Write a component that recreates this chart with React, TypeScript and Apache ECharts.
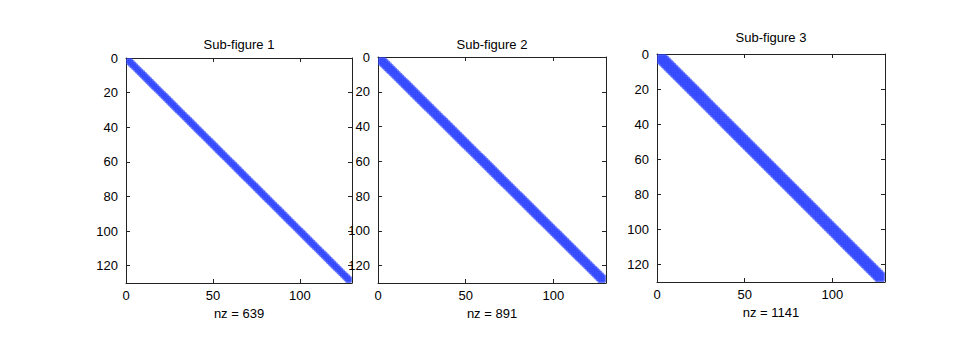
import React, { useEffect, useRef } from "react";
import * as echarts from "echarts";

// Sparse band matrices (MATLAB spy plots)
const matrixSize = 129;
const halfBandwidths = [2, 3, 4];
const nzCounts = [639, 891, 1141];
const titles = ["Sub-figure 1", "Sub-figure 2", "Sub-figure 3"];
const xTicks = [0, 50, 100];
const yTicks = [0, 20, 40, 60, 80, 100, 120];
const axisMax = 130;

// Layout of the three square axes (pixels)
const boxes = [
  { left: 126, top: 58, width: 226, height: 225, titleTop: 38 },
  { left: 378, top: 57, width: 228, height: 226, titleTop: 38 },
  { left: 657, top: 54, width: 228, height: 228, titleTop: 31 },
];

function nonzeros(n: number, k: number): number[][] {
  const pts: number[][] = [];
  for (let i = 1; i <= n; i++) {
    for (let j = Math.max(1, i - k); j <= Math.min(n, i + k); j++) {
      pts.push([j, i]);
    }
  }
  return pts;
}

const FONT = "Liberation Sans, Arial, Helvetica, sans-serif";
const AXIS_COLOR = "#222222";

export default function App() {
  const ref = useRef<HTMLDivElement>(null);
  useEffect(() => {
    document.body.style.margin = "0";
    if (!ref.current) return;
    const chart = echarts.init(ref.current, undefined, { renderer: "svg" });
    const grid: any[] = [];
    const xAxis: any[] = [];
    const yAxis: any[] = [];
    const series: any[] = [];
    const title: any[] = [];
    boxes.forEach((b, idx) => {
      grid.push({ left: b.left, top: b.top, width: b.width, height: b.height, containLabel: false });
      title.push({
        text: titles[idx],
        left: b.left + b.width / 2,
        top: b.titleTop,
        padding: 0,
        textAlign: "center",
        textStyle: { fontFamily: FONT, fontSize: 13, fontWeight: "normal", color: "#000" },
      });
      const lineStyle = { color: AXIS_COLOR, width: 1 };
      const tickStyle = { show: true, inside: true, length: 4, lineStyle };
      // bottom x
      xAxis.push({
        type: "value",
        gridIndex: idx,
        position: "bottom",
        min: 0,
        max: axisMax,
        interval: 50,
        splitLine: { show: false },
        axisLine: { show: true, onZero: false, lineStyle },
        axisTick: tickStyle,
        axisLabel: {
          show: true,
          showMaxLabel: false,
          margin: 6,
          fontFamily: FONT,
          fontSize: 13,
          color: "#000",
          formatter: (v: number) => (xTicks.includes(v) ? String(v) : ""),
        },
        name: "nz = " + nzCounts[idx],
        nameLocation: "middle",
        nameGap: 22,
        nameTextStyle: { fontFamily: FONT, fontSize: 13, color: "#000" },
      });
      // top x (box)
      xAxis.push({
        type: "value",
        gridIndex: idx,
        position: "top",
        min: 0,
        max: axisMax,
        interval: 50,
        splitLine: { show: false },
        axisLine: { show: true, onZero: false, lineStyle },
        axisTick: tickStyle,
        axisLabel: { show: false },
      });
      // left y
      yAxis.push({
        type: "value",
        gridIndex: idx,
        position: "left",
        inverse: true,
        min: 0,
        max: axisMax,
        interval: 20,
        splitLine: { show: false },
        axisLine: { show: true, onZero: false, lineStyle },
        axisTick: tickStyle,
        axisLabel: {
          show: true,
          showMaxLabel: false,
          margin: 8,
          fontFamily: FONT,
          fontSize: 13,
          color: "#000",
          formatter: (v: number) => (yTicks.includes(v) ? String(v) : ""),
        },
      });
      // right y (box)
      yAxis.push({
        type: "value",
        gridIndex: idx,
        position: "right",
        inverse: true,
        min: 0,
        max: axisMax,
        interval: 20,
        splitLine: { show: false },
        axisLine: { show: true, onZero: false, lineStyle },
        axisTick: tickStyle,
        axisLabel: { show: false },
      });
      series.push({
        type: "scatter",
        xAxisIndex: idx * 2,
        yAxisIndex: idx * 2,
        data: nonzeros(matrixSize, halfBandwidths[idx]),
        symbol: "circle",
        symbolSize: 3.4,
        itemStyle: { color: "#2f44ff", opacity: 0.7 },
        silent: true,
      });
    });
    chart.setOption({
      animation: false,
      backgroundColor: "#ffffff",
      title,
      grid,
      xAxis,
      yAxis,
      series,
    });
    return () => chart.dispose();
  }, []);
  return <div ref={ref} style={{ width: 969, height: 354 }} />;
}
